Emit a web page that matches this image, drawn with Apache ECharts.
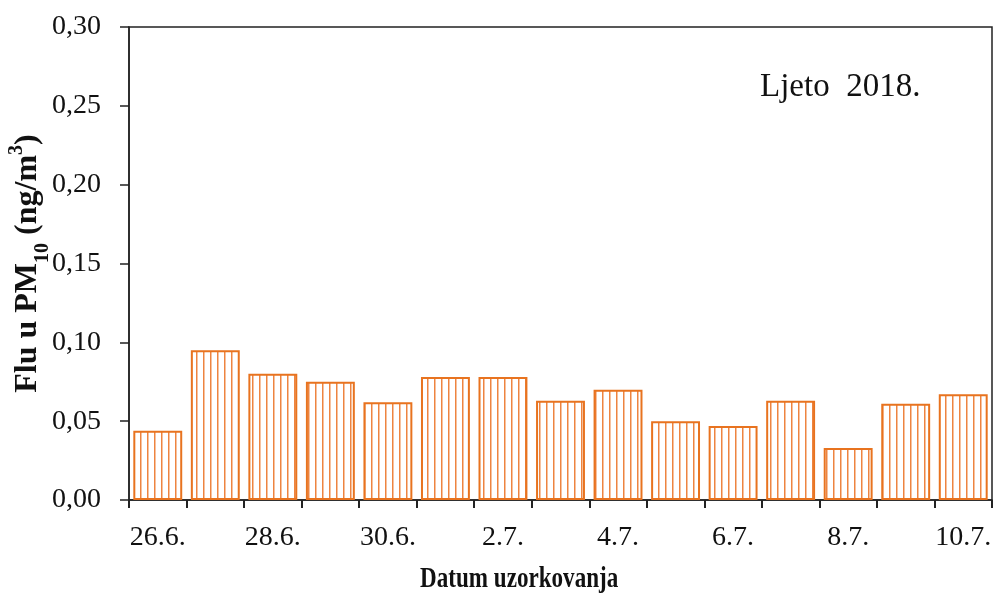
<!DOCTYPE html>
<html>
<head>
<meta charset="utf-8">
<script src="https://cdn.jsdelivr.net/npm/echarts@6/dist/echarts.min.js"></script>
<style>
  html, body { margin: 0; padding: 0; background: #fff; }
  #chart { width: 994px; height: 597px; }
</style>
</head>
<body>
<div id="chart"></div>
<script>
// Sampling dates (summer 2018)
const dates = ['26.6.', '27.6.', '28.6.', '29.6.', '30.6.', '1.7.', '2.7.', '3.7.',
               '4.7.', '5.7.', '6.7.', '7.7.', '8.7.', '9.7.', '10.7.'];
// Fluoranthene in PM10, ng/m3
const fluValues = [0.044, 0.095, 0.080, 0.075, 0.062, 0.078, 0.078, 0.063,
                   0.070, 0.050, 0.047, 0.063, 0.033, 0.061, 0.067];
const yTicks = [0, 0.05, 0.10, 0.15, 0.20, 0.25, 0.30];

const ORANGE = '#E8731F';
const SERIF = '"Liberation Serif", "Times New Roman", serif';

// vertical-line fill for the bars
function hatch() {
  const c = document.createElement('canvas');
  c.width = 7; c.height = 4;
  const g = c.getContext('2d');
  g.fillStyle = '#ffffff';
  g.fillRect(0, 0, 7, 4);
  g.fillStyle = '#EE8440';
  g.fillRect(0, 0, 1.5, 4);
  return c;
}

const chart = echarts.init(document.getElementById('chart'), null, { renderer: 'canvas' });
chart.setOption({
  animation: false,
  backgroundColor: '#fff',
  grid: {
    left: 129, right: 2, top: 27, bottom: 97,
    outerBoundsMode: 'none',
    containLabel: false,
    show: true, borderColor: '#222', borderWidth: 1.5, backgroundColor: 'transparent'
  },
  xAxis: {
    type: 'category',
    data: dates,
    boundaryGap: true,
    axisLine: { lineStyle: { color: '#222', width: 1.5 } },
    axisTick: { show: true, interval: 0, length: 8, inside: false, lineStyle: { color: '#222', width: 2 } },
    axisLabel: {
      interval: 1, margin: 24, color: '#111',
      fontFamily: SERIF, fontSize: 28
    },
    splitLine: { show: false }
  },
  yAxis: {
    type: 'value',
    min: 0, max: 0.30, interval: 0.05,
    axisLine: { show: true, lineStyle: { color: '#222', width: 1.5 } },
    axisTick: { show: true, length: 9, lineStyle: { color: '#222', width: 1.5 } },
    splitLine: { show: false },
    axisLabel: {
      margin: 28, color: '#111', fontFamily: SERIF, fontSize: 28,
      formatter: v => {
        const t = yTicks.find(x => Math.abs(x - v) < 1e-9);
        return (t !== undefined ? t : v).toFixed(2).replace('.', ',');
      }
    },
    name: '{b|Flu u PM}{sub|10}{b| (ng/m}{sup|3}{b|)}',
    nameLocation: 'middle',
    nameRotate: 90,
    nameGap: 84,
    nameMoveOverlap: false,
    nameTextStyle: {
      fontFamily: SERIF, fontWeight: 'bold', fontSize: 33, color: '#111',
      rich: {
        b: { fontFamily: SERIF, fontWeight: 'bold', fontSize: 32, color: '#111', lineHeight: 34, verticalAlign: 'middle' },
        sub: { fontFamily: SERIF, fontWeight: 'bold', fontSize: 20, color: '#111', lineHeight: 34, verticalAlign: 'bottom', padding: [0, 0, -8, 0] },
        sup: { fontFamily: SERIF, fontWeight: 'bold', fontSize: 20, color: '#111', lineHeight: 34, verticalAlign: 'top', padding: [-4, 0, 0, 0] }
      }
    }
  },
  series: [{
    type: 'bar',
    data: fluValues,
    barCategoryGap: '15%',
    itemStyle: {
      color: { image: hatch(), repeat: 'repeat' },
      borderColor: ORANGE,
      borderWidth: 2
    }
  }],
  graphic: [
    {
      type: 'text', left: 760, top: 71,
      style: { text: 'Ljeto  2018.', font: '33px ' + SERIF, fill: '#111' }
    },
    {
      type: 'text', left: 420, top: 564, scaleX: 0.77,
      style: { text: 'Datum uzorkovanja', font: 'bold 30px ' + SERIF, fill: '#111' }
    }
  ]
});
</script>
</body>
</html>
